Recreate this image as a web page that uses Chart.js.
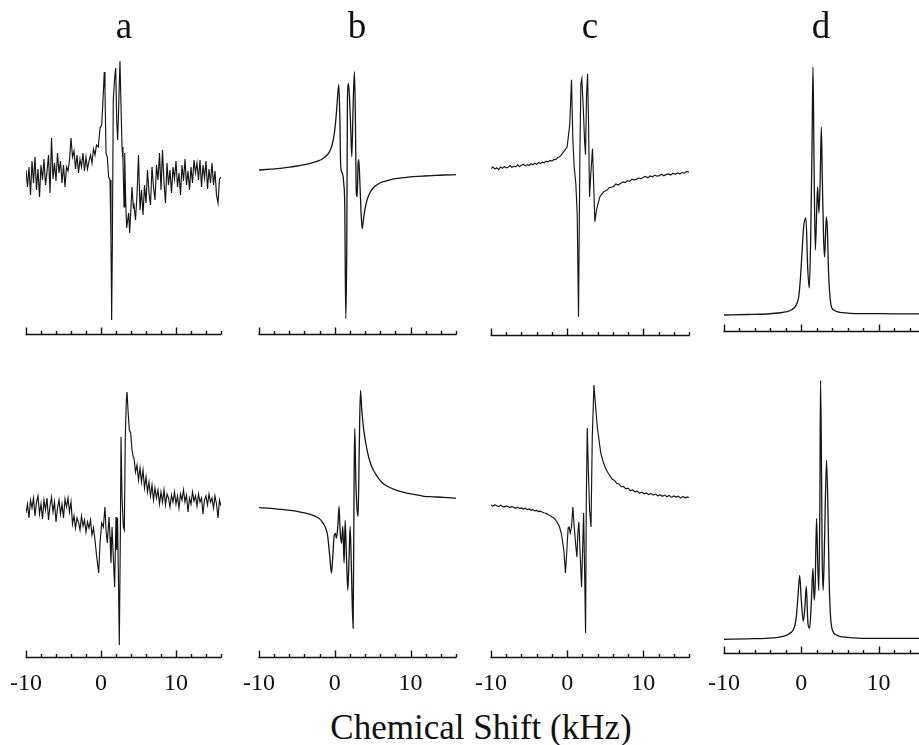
<!DOCTYPE html>
<html>
<head>
<meta charset="utf-8">
<script src="https://cdn.jsdelivr.net/npm/chart.js@4.4.1/dist/chart.umd.min.js"></script>
<style>
html,body{margin:0;padding:0;background:#fff;}
body{width:919px;height:745px;overflow:hidden;position:relative;font-family:"Liberation Serif","Times New Roman",serif;color:#111;}
canvas{position:absolute;}
.txt{position:absolute;white-space:nowrap;transform:translateX(-50%);line-height:1;color:#111;}
</style>
</head>
<body>
<script>
// ---------- categories / labels ----------
const panelLetters = ['a', 'b', 'c', 'd'];
const axisTitle = 'Chemical Shift (kHz)';
const tickValues = [-10, -8, -6, -4, -2, 0, 2, 4, 6, 8, 10, 12, 14, 16];
const majorTickValues = [-10, 0, 10];
const tickLabelValues = [-10, 0, 10];

// ---------- spectra: [shift (kHz), intensity (a.u.)] ----------
const specA1 = [[-10,5],[-9.8,-12],[-9.6,8],[-9.4,-20],[-9.2,14],[-9,-8],[-8.8,18],[-8.6,-15],[-8.4,6],[-8.2,-22],[-8,10],[-7.8,-5],[-7.6,16],[-7.4,-10],[-7.2,3],[-7,20],[-6.8,-18],[-6.6,37],[-6.4,-4],[-6.2,12],[-6,-6],[-5.8,22],[-5.6,2],[-5.4,14],[-5.2,-8],[-5,10],[-4.8,-12],[-4.6,8],[-4.4,4],[-4.2,15],[-4,37],[-3.8,18],[-3.6,24],[-3.4,6],[-3.2,20],[-3,2],[-2.8,16],[-2.6,8],[-2.4,22],[-2.2,4],[-2,18],[-1.8,6],[-1.6,14],[-1.4,20],[-1.2,12],[-1,26],[-0.8,20],[-0.6,30],
[-0.36,28],[-0.13,47],[0.09,50],[0.22,68],[0.44,103],[0.53,85],[0.67,22],[0.84,18],[1.02,-2],[1.2,-5],[1.33,-65],[1.42,-145],[1.51,-72],[1.64,75],[1.82,97],[1.96,107],[2.09,55],[2.22,35],[2.36,68],[2.53,114],[2.67,68],[2.8,28],[2.93,15],[3.07,-32],[3.16,22],[3.29,-25],[3.42,-53],[3.56,-45],[3.69,-38],[3.82,-58],[3.96,-38],[4.13,-12],[4.31,-32],
[4.4,-30],[4.6,-45],[4.8,-20],[5,20],[5.2,-35],[5.4,-15],[5.6,-40],[5.8,-10],[6,-28],[6.2,5],[6.4,-18],[6.6,-30],[6.8,8],[7,-12],[7.2,-25],[7.4,10],[7.6,-5],[7.8,22],[8,-15],[8.2,25],[8.4,-8],[8.6,-28],[8.8,12],[9,-10],[9.2,5],[9.4,-18],[9.6,8],[9.8,-4],[10,14],[10.2,-12],[10.4,2],[10.6,-20],[10.8,10],[11,-6],[11.2,16],[11.4,-10],[11.6,4],[11.8,-15],[12,8],[12.2,-8],[12.4,15],[12.6,2],[12.8,12],[13,-5],[13.2,15],[13.4,-12],[13.6,10],[13.8,-3],[14,14],[14.2,-14],[14.4,6],[14.6,-8],[14.8,12],[15,-10],[15.2,4],[15.4,-20],[15.6,-28],[15.8,-4],[16,-2]];

const specB1 = [[-10,1.7],[-8.5,2.5],[-7.2,3.3],[-6,4.5],[-5,5.7],[-4,7],[-3.2,8.3],[-2.5,10],[-1.9,11.7],[-1.5,13.5],[-1,16.7],[-0.7,20],[-0.35,26.7],[-0.1,36],[0.09,48],[0.25,62],[0.4,78],[0.53,87],[0.66,58],[0.79,5],[1.01,-1.7],[1.19,-12],[1.32,-35],[1.45,-147],[1.59,-68],[1.67,72],[1.81,88],[1.94,75],[2.11,42],[2.25,15],[2.42,65],[2.6,100],[2.73,48],[2.82,-15],[2.95,-25],[3.08,8],[3.17,12],[3.3,-8],[3.48,-42],[3.61,-57],[3.83,-45],[4.05,-35],[4.27,-28],[4.71,-20],[5.1,-16],[5.59,-13],[6.2,-10.5],[6.92,-9],[8,-7],[9.12,-6],[10.4,-5],[11.76,-4.3],[13,-3.8],[14.4,-3.3],[16,-3]];

const specC1 = [[-10,3],[-9.75,4.8],[-9.5,2.6],[-9.25,3.9],[-9,2.2],[-8.75,4.6],[-8.5,3.4],[-8.25,5.2],[-8,3.8],[-7.75,4.4],[-7.5,6.1],[-7.25,4.2],[-7,5.6],[-6.75,4.9],[-6.5,6.8],[-6.25,5.1],[-6,6.4],[-5.75,7.4],[-5.5,5.8],[-5.25,7.1],[-5,6.2],[-4.75,8],[-4.5,7],[-4.25,8.6],[-4,7.4],[-3.75,9.2],[-3.5,8.1],[-3.25,9.6],[-3,8.9],[-2.75,10.6],[-2.5,9.8],[-2.25,11.2],[-2,10.6],[-1.75,12.3],[-1.5,12.1],[-1.25,14],[-1,15],[-0.75,16.8],[-0.5,19.5],[-0.25,22],
[0,25],[0.35,48],[0.57,92],[0.75,32],[0.92,5],[1.14,-12],[1.32,-42],[1.49,-145],[1.67,15],[1.8,88],[1.93,93],[2.11,65],[2.28,32],[2.41,17],[2.54,75],[2.68,98],[2.81,48],[2.94,-25],[3.11,-2],[3.33,23],[3.46,-8],[3.64,-50],[3.86,-38],
[4.3,-25],[4.6,-22],[4.9,-19.5],[5.2,-18.8],[5.5,-16],[5.8,-15.5],[6.1,-14.8],[6.4,-12.2],[6.7,-13.4],[7,-11.9],[7.3,-10.2],[7.6,-10.8],[7.9,-9.1],[8.2,-9.6],[8.5,-7.4],[8.8,-8.3],[9.1,-7.7],[9.4,-6.1],[9.7,-7.2],[10,-5.6],[10.3,-4.7],[10.6,-6],[10.9,-4.2],[11.2,-5.1],[11.5,-3.6],[11.8,-4.4],[12.1,-3.9],[12.4,-2.5],[12.7,-4.1],[13,-2.7],[13.3,-2.2],[13.6,-3.4],[13.9,-1.5],[14.2,-2.6],[14.5,-1.1],[14.8,-2.3],[15.1,-0.8],[15.4,-1.4],[15.7,0.3],[16,-0.5]];

const specD1 = [[-10,0],[-7,0.5],[-4.44,1],[-3,2],[-1.85,3.3],[-1.2,5.5],[-0.78,8.3],[-0.5,13],[-0.34,18],[-0.13,35],[0.09,62],[0.3,88],[0.6,97],[0.82,48],[1.03,27],[1.21,75],[1.38,165],[1.51,248],[1.64,158],[1.81,65],[1.98,102],[2.11,128],[2.28,102],[2.46,142],[2.59,188],[2.72,135],[2.89,75],[3.02,58],[3.23,98],[3.36,88],[3.53,42],[3.75,15],[3.97,6.7],[4.3,4.5],[4.61,3.3],[5.3,2.3],[6.34,1.7],[8,1.4],[10.65,1.3],[13,1.1],[16,1]];

const specA2 = [[-10,-3],[-9.8,6],[-9.6,-8],[-9.4,10],[-9.2,2],[-9,12],[-8.8,-6],[-8.6,8],[-8.4,14],[-8.2,-4],[-8,6],[-7.8,-9],[-7.6,10],[-7.4,0],[-7.2,12],[-7,-10],[-6.8,4],[-6.6,13],[-6.4,-2],[-6.2,8],[-6,-12],[-5.8,2],[-5.6,10],[-5.4,-4],[-5.2,6],[-5,-8],[-4.8,11],[-4.6,3],[-4.4,12],[-4.2,-2],[-4,8],[-3.8,-14],[-3.6,-6],[-3.4,-18],[-3.2,-8],[-3,-12],[-2.8,-20],[-2.6,-6],[-2.4,-16],[-2.2,-10],[-2,-22],[-1.8,-12],[-1.6,-18],[-1.4,-10],[-1.2,-25],[-1,-18],[-0.8,-30],[-0.6,-45],
[-0.31,-63],[-0.13,-33],[0.09,-13],[0.31,-17],[0.53,3],[0.67,-20],[0.84,-33],[1.07,-7],[1.2,-27],[1.33,-53],[1.47,-17],[1.64,-47],[1.82,-77],[2,-7],[2.09,-40],[2.2,-8],[2.31,-60],[2.44,-135],[2.58,-27],[2.67,73],[2.8,13],[2.98,-17],[3.11,-20],[3.24,73],[3.38,110],[3.47,118],[3.6,100],[3.78,80],[3.96,77],[4.13,60],[4.31,53],
[4.4,52],[4.6,38],[4.8,45],[5,30],[5.2,42],[5.4,28],[5.6,40],[5.8,22],[6,33],[6.2,18],[6.4,28],[6.6,14],[6.8,25],[7,10],[7.2,22],[7.4,12],[7.6,20],[7.8,6],[8,18],[8.2,8],[8.4,20],[8.6,5],[8.8,16],[9,12],[9.2,3],[9.4,15],[9.6,8],[9.8,18],[10,6],[10.2,14],[10.4,2],[10.6,16],[10.8,10],[11,20],[11.2,8],[11.4,15],[11.6,-2],[11.8,12],[12,6],[12.2,18],[12.4,9],[12.6,14],[12.8,4],[13,16],[13.2,8],[13.4,12],[13.6,-4],[13.8,10],[14,14],[14.2,5],[14.4,16],[14.6,8],[14.8,12],[15,2],[15.2,14],[15.4,6],[15.6,-8],[15.8,10],[16,4]];

const specB2 = [[-10,0.7],[-8.5,0],[-7.2,-1],[-6,-2],[-5,-3],[-4,-4.5],[-3.2,-6],[-2.6,-8],[-2.1,-10],[-1.7,-13],[-1.37,-17],[-1.1,-22],[-0.93,-28],[-0.66,-48],[-0.44,-65],[-0.26,-48],[-0.09,-28],[0.09,-25],[0.22,-30],[0.4,-18],[0.57,2],[0.7,-22],[0.88,-35],[1.06,-18],[1.23,-55],[1.37,-12],[1.54,-48],[1.72,-82],[1.89,-48],[2.03,-18],[2.2,-62],[2.42,-120],[2.56,38],[2.64,80],[2.78,28],[2.95,-2],[3.08,-8],[3.22,55],[3.39,118],[3.57,98],[3.83,78],[4.27,58],[4.71,45],[5.1,38],[5.59,32],[6.2,26],[6.92,22],[8,18.5],[9.12,16],[10.4,14],[11.76,12],[13,11.5],[14.4,11],[16,10]];

const specC2 = [[-10,0],[-9.75,-1.2],[-9.5,0.4],[-9.25,-0.8],[-9,-1.6],[-8.75,-0.3],[-8.5,-1.4],[-8.25,-2.1],[-8,-0.9],[-7.75,-1.8],[-7.5,-2.6],[-7.25,-1.5],[-7,-2.4],[-6.75,-3.3],[-6.5,-2.2],[-6.25,-3.4],[-6,-2.9],[-5.75,-4.1],[-5.5,-3.2],[-5.25,-4.6],[-5,-4],[-4.75,-5.3],[-4.5,-4.6],[-4.25,-5.9],[-4,-5.4],[-3.75,-6.6],[-3.5,-6.1],[-3.25,-7.3],[-3,-8],[-2.75,-8.4],[-2.5,-9.6],[-2.25,-10.4],[-2,-12],[-1.75,-13],[-1.5,-15],[-1.25,-18],[-1,-22],[-0.75,-29],
[-0.44,-45],[-0.22,-68],[-0.04,-45],[0.13,-23],[0.26,-22],[0.4,-28],[0.57,-22],[0.75,-2],[0.93,-22],[1.1,-38],[1.28,-52],[1.41,-28],[1.54,-17],[1.72,-52],[1.89,-82],[2.03,-45],[2.16,-8],[2.29,-65],[2.42,-128],[2.51,2],[2.64,77],[2.78,35],[2.95,-5],[3.13,-22],[3.3,68],[3.52,120],[3.7,102],[3.96,78],[4.41,52],
[4.7,44],[5,37.5],[5.3,33],[5.6,29.5],[5.9,26],[6.2,24.6],[6.5,21.8],[6.8,21],[7.1,18.3],[7.4,18.6],[7.7,16.2],[8,16.8],[8.3,14.4],[8.6,15.1],[8.9,13.2],[9.2,13.9],[9.5,11.8],[9.8,12.9],[10.1,11.2],[10.4,12.1],[10.7,10.4],[11,11.6],[11.3,9.8],[11.6,10.9],[11.9,9.2],[12.2,10.3],[12.5,8.7],[12.8,9.9],[13.1,8.3],[13.4,9.6],[13.7,7.6],[14,9.1],[14.3,7.9],[14.6,8.8],[14.9,6.9],[15.2,8.5],[15.5,7.2],[15.8,8.1],[16,7.4]];

const specD2 = [[-10,0],[-7,0.5],[-4.5,1],[-3,2],[-1.93,4],[-1.3,7],[-1.07,9],[-0.8,15],[-0.64,23],[-0.43,43],[-0.21,64],[0,39],[0.26,18],[0.47,33],[0.64,53],[0.86,16],[1.07,11],[1.29,36],[1.5,71],[1.67,39],[1.8,56],[1.97,121],[2.15,69],[2.27,49],[2.4,136],[2.49,259],[2.62,163],[2.7,83],[2.83,49],[3,96],[3.26,179],[3.43,136],[3.61,56],[3.78,23],[4.08,8],[4.5,4.5],[4.94,3],[6,2],[8.37,1],[12,1],[16,1]];

// ---------- layout (page geometry) ----------
const PAD = 40;
const panels = [
  {spec: specA1, x0: 26,    x1: 221,   top: 45,  axisY: 334, base: 175,   labels: false, smooth: false},
  {spec: specB1, x0: 258.6, x1: 455.4, top: 45,  axisY: 334, base: 171.7, labels: false, smooth: true},
  {spec: specC1, x0: 491.3, x1: 688.9, top: 45,  axisY: 335, base: 171.7, labels: false, smooth: false},
  {spec: specD1, x0: 723.7, x1: 924.7, top: 45,  axisY: 331, base: 315,   labels: false, smooth: true},
  {spec: specA2, x0: 26,    x1: 221,   top: 375, axisY: 657, base: 510,   labels: true,  smooth: false},
  {spec: specB2, x0: 258.6, x1: 455.4, top: 375, axisY: 657, base: 508.3, labels: true,  smooth: true},
  {spec: specC2, x0: 491.3, x1: 688.9, top: 375, axisY: 657, base: 505,   labels: true,  smooth: false},
  {spec: specD2, x0: 723.7, x1: 924.7, top: 375, axisY: 653, base: 639.3, labels: true,  smooth: true}
];
const LABEL_CENTER_Y = 684;
const TICK_FONT = 24;

const axisPlugin = {
  id: 'nmrAxis',
  afterDraw(chart) {
    const {ctx, chartArea} = chart;
    const xs = chart.scales.x;
    const y = chartArea.bottom + 0.5;
    ctx.save();
    ctx.strokeStyle = '#111';
    ctx.lineWidth = 1.6;
    ctx.beginPath();
    ctx.moveTo(xs.getPixelForValue(tickValues[0]) - 0.5, y);
    ctx.lineTo(xs.getPixelForValue(tickValues[tickValues.length - 1]) + 0.5, y);
    ctx.stroke();
    ctx.lineWidth = 1.4;
    tickValues.forEach(v => {
      const px = Math.round(xs.getPixelForValue(v)) + 0.5;
      const len = majorTickValues.includes(v) ? 7 : 3.5;
      ctx.beginPath();
      ctx.moveTo(px, y);
      ctx.lineTo(px, y - len);
      ctx.stroke();
    });
    ctx.restore();
  }
};

panels.forEach((p) => {
  const cv = document.createElement('canvas');
  const w = Math.round(p.x1 - p.x0 + 2 * PAD);
  const bottomExtra = p.labels ? 45 : 8;
  const h = Math.round(p.axisY - p.top + 5 + bottomExtra);
  cv.width = w; cv.height = h;
  cv.style.left = (p.x0 - PAD) + 'px';
  cv.style.top = (p.top - 5) + 'px';
  cv.style.width = w + 'px'; cv.style.height = h + 'px';
  document.body.appendChild(cv);
  const lineH = TICK_FONT * 1.2;
  const xScale = {
    type: 'linear',
    min: tickValues[0],
    max: tickValues[tickValues.length - 1],
    display: p.labels,
    grid: {display: false, drawTicks: false},
    border: {display: false},
    afterBuildTicks: (s) => { s.ticks = tickLabelValues.map(v => ({value: v})); },
    ticks: {
      autoSkip: false,
      maxRotation: 0,
      padding: LABEL_CENTER_Y - p.axisY - lineH / 2,
      color: '#111',
      font: {family: '"Liberation Serif", "Times New Roman", serif', size: TICK_FONT},
      callback: (v) => String(v)
    }
  };
  if (p.labels) xScale.afterFit = (s) => { s.height = bottomExtra; };
  new Chart(cv, {
    type: 'line',
    data: {
      datasets: [{
        data: p.spec.map(d => ({x: d[0], y: d[1]})),
        borderColor: '#141414',
        borderWidth: p.smooth ? 1.3 : 1.15,
        pointRadius: 0,
        fill: false,
        tension: 0,
        cubicInterpolationMode: p.smooth ? 'monotone' : 'default'
      }]
    },
    options: {
      responsive: false,
      animation: false,
      devicePixelRatio: 1,
      layout: {padding: {left: PAD, right: PAD, top: 5, bottom: p.labels ? 0 : bottomExtra}},
      plugins: {legend: {display: false}, tooltip: {enabled: false}},
      scales: {
        x: xScale,
        y: {
          display: false,
          min: p.base - p.axisY,
          max: p.base - p.top
        }
      }
    },
    plugins: [axisPlugin]
  });
});

// panel letters and axis title (real text)
const letterX = [124, 357, 590, 821];
panelLetters.forEach((L, i) => {
  const d = document.createElement('div');
  d.className = 'txt';
  d.textContent = L;
  d.style.left = letterX[i] + 'px';
  d.style.top = '7px';
  d.style.fontSize = '37px';
  document.body.appendChild(d);
});
const t = document.createElement('div');
t.className = 'txt';
t.textContent = axisTitle;
t.style.left = '481px';
t.style.top = '710px';
t.style.fontSize = '35px';
document.body.appendChild(t);
</script>
</body>
</html>
